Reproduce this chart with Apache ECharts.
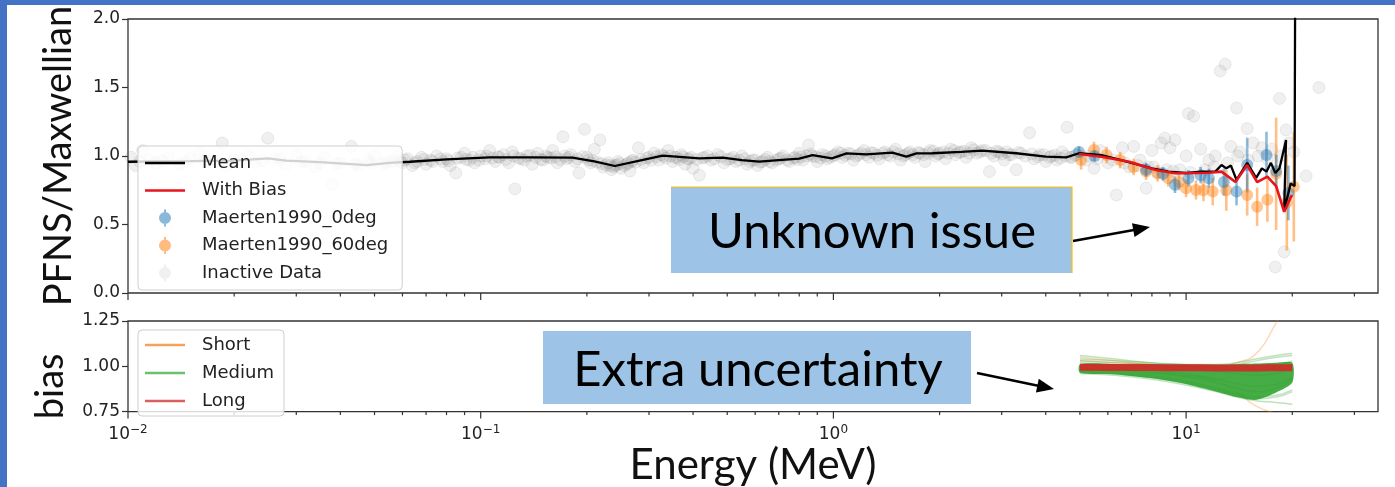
<!DOCTYPE html>
<html><head><meta charset="utf-8">
<script src="https://cdn.jsdelivr.net/npm/echarts@6/dist/echarts.min.js"></script>
<style>html,body{margin:0;padding:0;background:#fff}#c{width:1395px;height:487px}</style>
</head><body><div id="c"></div>
<script>
// ---------------- data ----------------
const xMin = 0.01, xMax = 35;
const majorTicks = [0.01, 0.1, 1, 10];
const minorTicks = [0.02,0.03,0.04,0.05,0.06,0.07,0.08,0.09,0.2,0.3,0.4,0.5,0.6,0.7,0.8,0.9,2,3,4,5,6,7,8,9,20,30];

// Mean curve [E (MeV), PFNS/Maxwellian]
const meanCurve = [[0.01,0.958],[0.015,0.962],[0.02,0.966],[0.025,0.983],[0.028,0.966],[0.035,0.955],[0.0475,0.934],[0.055,0.95],[0.063,0.958],[0.08,0.975],[0.106,0.99],[0.14,0.99],[0.182,0.988],[0.21,0.96],[0.24,0.927],[0.28,0.965],[0.328,1.002],[0.417,0.983],[0.485,0.988],[0.55,0.97],[0.616,0.959],[0.70,0.97],[0.80,0.981],[0.873,1.007],[0.99,0.983],[1.09,1.019],[1.24,1.012],[1.47,1.024],[1.61,0.995],[1.72,1.019],[1.91,1.02],[2.3,1.03],[2.64,1.039],[3.3,1.02],[4.0,0.995],[4.57,0.99],[4.97,1.02],[5.76,1.007],[6.54,0.97],[8.0,0.91],[8.9,0.886],[10.0,0.876],[11.1,0.886],[12.1,0.886],[12.6,0.934],[13.0,0.91],[13.4,0.93],[13.9,0.825],[14.9,0.95],[15.8,0.84],[16.4,0.91],[16.9,0.886],[17.4,0.95],[17.9,0.876],[18.4,0.91],[19.2,1.117],[18.97,0.606],[19.8,0.80],[20.3,0.78],[20.4,2.6]];

// With-bias curve
const biasCurve = [[4.97,1.015],[5.76,0.995],[6.9,0.958],[8.2,0.898],[9.3,0.874],[10.0,0.874],[11.6,0.878],[12.6,0.886],[13.8,0.81],[14.9,0.934],[15.9,0.81],[17.0,0.85],[18.0,0.78],[18.97,0.593],[19.95,0.715]];

// Maerten1990 data [E, value, error]
const maerten0 = [[4.97,1.03,0.04],[5.5,1.0,0.04],[7.7,0.9,0.05],[8.6,0.87,0.05],[9.3,0.79,0.06],[10.15,0.837,0.06],[11.0,0.86,0.06],[11.6,0.837,0.07],[12.8,0.81,0.1],[13.9,0.74,0.1],[14.9,0.934,0.2],[16.9,1.007,0.17],[18.0,0.89,0.12],[19.5,0.73,0.2]];
const maerten60 = [[5.04,0.971,0.07],[5.48,1.044,0.06],[5.95,1.007,0.06],[6.5,0.97,0.06],[7.1,0.92,0.06],[7.7,0.886,0.06],[8.3,0.874,0.06],[8.9,0.837,0.06],[9.55,0.81,0.06],[10.0,0.764,0.065],[10.67,0.752,0.07],[11.2,0.75,0.08],[11.9,0.74,0.1],[13.0,0.75,0.15],[14.9,0.715,0.15],[15.9,0.63,0.14],[17.0,0.68,0.16],[18.0,0.87,0.41],[19.3,0.66,0.35],[20.2,0.776,0.4]];

// Inactive data [E, value]
const inactiveData = [
[0.0102,0.99],[0.0105,0.93],[0.011,1.04],[0.0115,0.97],[0.012,0.95],[0.013,0.99],[0.014,0.94],[0.015,0.98],[0.016,1.02],[0.017,0.96],[0.0185,1.095],[0.019,0.93],[0.02,0.97],[0.022,1.0],[0.023,0.95],[0.0249,1.13],[0.026,0.98],[0.028,0.94],[0.03,1.01],[0.032,0.96],[0.034,0.92],[0.036,0.99],[0.038,0.79],[0.04,0.95],[0.043,1.07],[0.045,0.93],[0.048,0.97],[0.05,1.0],[0.053,0.94],[0.056,0.96],[0.058,0.99],
[0.0108,0.96],[0.0125,0.965],[0.0145,0.955],[0.0165,0.97],[0.018,0.96],[0.021,0.975],[0.024,0.965],[0.027,0.975],[0.031,0.955],[0.035,0.95],[0.039,0.945],[0.044,0.94],[0.049,0.945],[0.054,0.955],[0.059,0.96],
[0.06,0.95],[0.062,0.98],[0.064,0.93],[0.066,0.96],[0.068,0.99],[0.07,0.94],[0.072,0.97],[0.075,1.0],[0.078,0.96],[0.08,0.98],[0.082,0.93],[0.085,0.876],[0.088,0.99],[0.09,1.02],[0.093,0.97],[0.096,0.95],[0.1,1.0],[0.103,0.98],[0.106,1.04],[0.11,0.96],[0.113,0.99],[0.116,1.01],[0.12,0.95],[0.123,1.03],[0.125,0.76],[0.13,0.98],[0.135,1.0],[0.14,0.94],[0.145,1.02],[0.15,0.97],[0.155,0.99],[0.16,1.04],[0.165,0.95],[0.171,1.14],[0.175,0.98],[0.18,1.01],[0.185,0.96],[0.19,0.876],[0.197,1.195],
[0.061,0.97],[0.065,0.95],[0.069,0.975],[0.073,0.96],[0.077,0.98],[0.081,0.965],[0.086,0.985],[0.091,0.975],[0.095,0.99],[0.099,0.97],[0.104,1.0],[0.108,0.985],[0.112,0.995],[0.118,0.975],[0.124,1.0],[0.128,0.985],[0.133,0.97],[0.138,1.005],[0.143,0.99],[0.148,0.975],[0.153,1.0],[0.158,0.985],[0.163,0.995],[0.168,0.975],[0.173,1.0],[0.178,0.99],[0.188,0.98],[0.195,0.995],
[0.2,0.99],[0.205,0.95],[0.21,1.05],[0.218,1.117],[0.222,0.92],[0.23,0.95],[0.235,0.90],[0.24,0.93],[0.245,0.96],[0.25,0.91],[0.26,0.94],[0.265,0.89],[0.27,0.97],[0.28,1.06],[0.29,0.95],[0.30,0.99],[0.31,1.02],[0.32,0.97],[0.33,1.00],[0.34,1.04],[0.35,0.96],[0.36,0.99],[0.37,1.01],[0.38,0.94],[0.39,0.98],[0.40,0.91],[0.417,0.86],[0.43,0.99],[0.45,0.97],[0.47,1.01],[0.49,0.95],
[0.202,0.97],[0.208,0.965],[0.214,0.955],[0.22,0.945],[0.227,0.935],[0.233,0.93],[0.238,0.92],[0.243,0.935],[0.248,0.945],[0.255,0.93],[0.262,0.95],[0.268,0.96],[0.275,0.955],[0.285,0.975],[0.295,0.985],[0.305,0.97],[0.315,0.995],[0.325,1.01],[0.335,0.985],[0.345,1.0],[0.355,0.99],[0.365,0.975],[0.375,0.995],[0.385,0.98],[0.395,0.99],[0.41,0.975],[0.425,0.985],[0.44,1.0],[0.46,0.98],[0.48,0.995],
[0.51,0.98],[0.53,0.96],[0.55,1.0],[0.57,0.94],[0.59,0.97],[0.61,0.93],[0.63,0.96],[0.65,0.99],[0.67,0.95],[0.7,0.98],[0.72,1.0],[0.75,0.96],[0.78,0.99],[0.8,1.02],[0.82,0.97],[0.85,1.08],[0.87,1.0],[0.9,0.96],[0.93,1.01],[0.96,0.98],[1.0,1.0],[1.03,1.03],[1.06,0.99],[1.1,1.02],[1.14,0.97],[1.18,1.01],[1.22,1.04],[1.26,0.99],[1.3,1.02],[1.35,0.98],[1.4,1.03],[1.45,1.0],[1.5,1.05],[1.55,0.97],[1.6,1.01],[1.65,1.03],
[0.5,0.975],[0.52,0.99],[0.54,0.97],[0.56,0.98],[0.58,0.96],[0.6,0.97],[0.62,0.955],[0.64,0.975],[0.66,0.96],[0.69,0.97],[0.71,0.985],[0.74,0.97],[0.77,0.985],[0.79,0.975],[0.81,0.995],[0.84,1.0],[0.86,1.015],[0.89,0.995],[0.92,0.985],[0.95,1.0],[0.98,0.99],[1.01,1.01],[1.05,1.02],[1.08,1.005],[1.12,1.015],[1.16,1.0],[1.2,1.02],[1.24,1.01],[1.28,1.025],[1.33,1.005],[1.38,1.02],[1.43,1.01],[1.48,1.03],[1.53,1.015],[1.58,1.0],[1.63,1.02],[1.68,1.01],
[1.7,0.99],[1.76,1.02],[1.82,0.96],[1.88,1.04],[1.95,1.0],[2.0,1.02],[2.08,0.98],[2.15,1.05],[2.22,1.01],[2.3,1.03],[2.38,0.99],[2.46,1.06],[2.55,1.02],[2.64,1.04],[2.77,0.886],[2.85,1.0],[2.95,1.03],[3.05,0.97],[3.15,1.01],[3.3,0.9],[3.4,1.02],[3.6,1.17],[3.7,0.98],[3.85,1.01],[4.0,0.96],[4.15,1.0],[4.3,0.97],[4.45,1.03],[4.6,1.21],[4.75,0.99],[4.9,1.01],
[1.74,1.025],[1.8,1.01],[1.86,1.02],[1.92,1.035],[1.98,1.015],[2.05,1.03],[2.12,1.02],[2.2,1.04],[2.27,1.025],[2.35,1.035],[2.43,1.02],[2.5,1.045],[2.6,1.03],[2.7,1.04],[2.8,1.02],[2.9,1.035],[3.0,1.015],[3.1,1.03],[3.2,1.01],[3.35,1.025],[3.5,1.0],[3.65,1.015],[3.8,0.995],[3.95,1.01],[4.1,0.99],[4.25,1.005],[4.4,0.985],[4.55,1.0],[4.7,0.99],[4.85,1.005],
[5.2,0.97],[5.48,0.91],[5.7,1.04],[6.0,0.95],[6.34,0.715],[6.6,1.06],[6.9,0.92],[7.1,1.07],[7.4,0.97],[7.7,0.766],[7.8,0.92],[8.0,1.04],[8.3,0.88],[8.5,1.095],[8.7,1.13],[9.0,1.06],[9.3,1.117],[9.6,0.9],[10.15,1.31],[10.5,1.29],[10.0,1.0],[11.0,1.05],[11.6,0.97],[12.1,1.0],[12.5,1.62],[12.9,1.67],[13.4,1.07],[13.9,1.35],[14.2,1.03],[14.9,1.2],[14.9,2.01],[15.5,1.095],[16.4,1.06],[17.0,0.98],[17.9,0.19],[18.4,1.42],[18.97,0.30],[19.2,1.19],[19.6,1.095],[20.2,1.03],[21.9,0.854],[23.8,1.50],
[5.3,1.0],[5.6,0.98],[6.2,0.97],[6.7,0.95],[7.3,0.93],[8.1,0.92],[8.8,0.9],[9.2,0.89],[10.3,0.88],[11.3,0.9],[12.0,0.92],[13.1,0.95],[14.0,1.0],[15.0,0.97],[16.0,1.0],[17.5,1.05],[18.5,1.0]
];

// Bias samples (lower panel)
const biasE = [5, 6.3, 7.9, 9.8, 12.2, 13.9, 15.8, 18, 20];
const mediumUpper = [1.012, 1.012, 1.01, 1.01, 1.01, 1.012, 1.015, 1.02, 1.02];
const mediumLower = [0.965, 0.955, 0.935, 0.905, 0.86, 0.83, 0.815, 0.855, 0.91];
const mediumCurves = [
 [1.06, 1.04, 1.02, 1.01, 1.0, 1.01, 1.03, 1.05, 1.06],
 [1.04, 1.03, 1.02, 1.01, 1.01, 1.02, 1.04, 1.06, 1.07],
 [0.98, 0.97, 0.95, 0.92, 0.88, 0.85, 0.83, 0.84, 0.87],
 [0.97, 0.96, 0.94, 0.91, 0.87, 0.84, 0.82, 0.83, 0.86],
 [0.99, 0.98, 0.965, 0.945, 0.91, 0.88, 0.86, 0.88, 0.93],
 [1.0, 0.99, 0.98, 0.96, 0.93, 0.905, 0.89, 0.9, 0.94],
 [1.02, 1.01, 1.0, 0.99, 0.975, 0.96, 0.95, 0.96, 0.99],
 [0.96, 0.95, 0.93, 0.9, 0.86, 0.83, 0.81, 0.8, 0.79],
 [1.03, 1.02, 1.01, 1.0, 0.99, 0.98, 0.98, 1.0, 1.03]
];
const shortCurves = [
 [1.05, 1.03, 1.01, 1.0, 1.0, 1.02, 1.07, 1.24, 1.4],
 [0.99, 0.98, 0.97, 0.95, 0.92, 0.86, 0.78, 0.74, 0.72],
 [1.03, 1.02, 1.01, 1.0, 0.99, 0.98, 0.97, 0.99, 1.01]
];
const longCurves = [
 [0.995, 0.994, 0.993, 0.992, 0.991, 0.991, 0.991, 0.992, 0.992]
];

// ---------------- helpers ----------------
const FONT = 'DejaVu Sans';
const errIcon = 'path://M5,0h2v17h-2z M12,8.5a6,6 0 1,1 -12,0a6,6 0 1,1 12,0z';
const lineIcon = 'path://M0,0h40v2.5h-40z';

function tickSeries(idx, vals, len) {
  return {
    type: 'custom', xAxisIndex: idx, yAxisIndex: idx, silent: true, clip: false, z: 6,
    data: vals.map(v => [v, 1]), encode: {x: 0, y: 1},
    renderItem: (params, api) => {
      const cs = params.coordSys;
      const x = api.coord([api.value(0), 1])[0];
      const y0 = cs.y + cs.height;
      return {type: 'line', shape: {x1: x, y1: y0, x2: x, y2: y0 + len}, style: {stroke: '#333', lineWidth: 1.2}};
    }
  };
}
function errSeries(name, data, color) {
  return {
    type: 'custom', name: name + '_err', xAxisIndex: 0, yAxisIndex: 0, silent: true, z: 3,
    data: data, encode: {x: 0, y: 1},
    renderItem: (params, api) => {
      const x = api.value(0), y = api.value(1), e = api.value(2);
      const p1 = api.coord([x, y - e]), p2 = api.coord([x, y + e]);
      return {type: 'line', shape: {x1: p1[0], y1: p1[1], x2: p2[0], y2: p2[1]}, style: {stroke: color, lineWidth: 2.6}};
    }
  };
}
function arrow(x1, y1, x2, y2) {
  const dx = x2 - x1, dy = y2 - y1, L = Math.hypot(dx, dy), ux = dx / L, uy = dy / L;
  const hl = 17, hw = 7, bx = x2 - ux * hl, by = y2 - uy * hl;
  return [
    {type: 'line', z: 100, shape: {x1: x1, y1: y1, x2: bx + ux * 2, y2: by + uy * 2}, style: {stroke: '#000', lineWidth: 2.5}},
    {type: 'polygon', z: 100, shape: {points: [[x2, y2], [bx - uy * hw, by + ux * hw], [bx + uy * hw, by - ux * hw]]}, style: {fill: '#000'}}
  ];
}
const supMap = {'-2': '−2', '-1': '−1', '0': '0', '1': '1'};

// ---------------- series ----------------
const series = [];
series.push({
  name: 'Inactive Data', type: 'scatter', xAxisIndex: 0, yAxisIndex: 0, z: 2,
  data: inactiveData, symbolSize: 12, clip: true,
  itemStyle: {color: 'rgba(110,110,110,0.13)', borderColor: 'rgba(90,90,90,0.13)', borderWidth: 1}
});
series.push(errSeries('Maerten1990_60deg', maerten60, 'rgba(255,127,14,0.5)'));
series.push(errSeries('Maerten1990_0deg', maerten0, 'rgba(31,119,180,0.5)'));
series.push({
  name: 'Maerten1990_60deg', type: 'scatter', xAxisIndex: 0, yAxisIndex: 0, z: 3,
  data: maerten60.map(d => [d[0], d[1]]), symbolSize: 12,
  itemStyle: {color: 'rgba(255,127,14,0.55)'}
});
series.push({
  name: 'Maerten1990_0deg', type: 'scatter', xAxisIndex: 0, yAxisIndex: 0, z: 3,
  data: maerten0.map(d => [d[0], d[1]]), symbolSize: 12,
  itemStyle: {color: 'rgba(31,119,180,0.55)'}
});
series.push({
  name: 'Mean', type: 'line', xAxisIndex: 0, yAxisIndex: 0, z: 4, data: meanCurve,
  symbol: 'none', lineStyle: {color: '#000', width: 2.3}, itemStyle: {color: '#000'}
});
series.push({
  name: 'With Bias', type: 'line', xAxisIndex: 0, yAxisIndex: 0, z: 5, data: biasCurve,
  symbol: 'none', lineStyle: {color: '#e8141c', width: 2.6}, itemStyle: {color: '#e8141c'}
});

// lower panel
shortCurves.forEach(c => series.push({
  name: 'Short', type: 'line', xAxisIndex: 1, yAxisIndex: 1, z: 2, smooth: true,
  data: biasE.map((e, i) => [e, c[i]]), symbol: 'none',
  lineStyle: {color: '#ff7f0e', width: 1.5, opacity: 0.3}, itemStyle: {color: '#ff7f0e'}
}));
mediumCurves.forEach(c => series.push({
  name: 'Medium', type: 'line', xAxisIndex: 1, yAxisIndex: 1, z: 2, smooth: true,
  data: biasE.map((e, i) => [e, c[i]]), symbol: 'none',
  lineStyle: {color: '#2ca02c', width: 1.5, opacity: 0.3}, itemStyle: {color: '#2ca02c'}
}));
series.push({
  name: 'mediumBand', type: 'custom', xAxisIndex: 1, yAxisIndex: 1, z: 3, silent: true,
  data: [[biasE[0], 1]], encode: {x: 0, y: 1},
  renderItem: (params, api) => {
    const up = biasE.map((e, i) => api.coord([e, mediumUpper[i]]));
    const lo = biasE.map((e, i) => api.coord([e, mediumLower[i]])).reverse();
    return {type: 'polygon', shape: {points: up.concat(lo), smooth: 0.25}, style: {fill: 'rgba(44,160,44,0.88)'}};
  }
});
longCurves.forEach(c => series.push({
  name: 'Long', type: 'line', xAxisIndex: 1, yAxisIndex: 1, z: 4, smooth: true,
  data: biasE.map((e, i) => [e, c[i]]), symbol: 'none',
  lineStyle: {color: '#d62728', width: 7, opacity: 0.9}, itemStyle: {color: '#d62728'}
}));

series.push(tickSeries(0, majorTicks, 7));
series.push(tickSeries(0, minorTicks, 3.5));
series.push(tickSeries(1, majorTicks, 7));
series.push(tickSeries(1, minorTicks, 3.5));

// ---------------- option ----------------
const axisFont = {fontFamily: FONT, fontSize: 17, color: '#222'};
const legendCommon = {
  orient: 'vertical', left: 138, selectedMode: false, z: 20,
  itemWidth: 40, itemHeight: 17,
  backgroundColor: 'rgba(255,255,255,0.82)', borderColor: '#cfcfcf', borderWidth: 1, borderRadius: 4,
  textStyle: {fontFamily: FONT, fontSize: 18, color: '#222', padding: [0, 0, 0, 12]}
};
const option = {
  animation: false,
  backgroundColor: '#fff',
  grid: [
    {left: 128, top: 19, right: 17, height: 274, show: true, borderColor: '#333', borderWidth: 1.3, backgroundColor: '#fff'},
    {left: 128, top: 321, right: 17, height: 91, show: true, borderColor: '#333', borderWidth: 1.3, backgroundColor: '#fff'}
  ],
  xAxis: [
    {type: 'log', gridIndex: 0, min: xMin, max: xMax, logBase: 10,
     axisLine: {show: false}, axisTick: {show: false}, axisLabel: {show: false}, splitLine: {show: false}},
    {type: 'log', gridIndex: 1, min: xMin, max: xMax, logBase: 10,
     axisLine: {show: false}, axisTick: {show: false}, splitLine: {show: false},
     name: 'Energy (MeV)', nameLocation: 'middle', nameGap: 27,
     nameTextStyle: {fontFamily: 'Lato', fontSize: 42, color: '#111'},
     axisLabel: {
       margin: 12,
       formatter: v => {
         const ex = Math.log10(v), r = Math.round(ex);
         if (Math.abs(ex - r) > 1e-6 || !(String(r) in supMap)) return '';
         return '{b|10}{s|' + supMap[String(r)] + '}';
       },
       rich: {
         b: {fontFamily: FONT, fontSize: 17, color: '#222'},
         s: {fontFamily: FONT, fontSize: 12, color: '#222', padding: [0, 0, 10, 0]}
       }
     }}
  ],
  yAxis: [
    {type: 'value', gridIndex: 0, min: 0, max: 2, interval: 0.5,
     axisLine: {show: false}, splitLine: {show: false},
     axisTick: {show: true, length: 6, lineStyle: {color: '#333', width: 1.2}},
     axisLabel: Object.assign({margin: 8, formatter: v => v.toFixed(1)}, axisFont),
     name: 'PFNS/Maxwellian', nameLocation: 'middle', nameGap: 50,
     nameTextStyle: {fontFamily: 'Lato', fontSize: 38, color: '#111'}},
    {type: 'value', gridIndex: 1, min: 0.75, max: 1.25, interval: 0.25,
     axisLine: {show: false}, splitLine: {show: false},
     axisTick: {show: true, length: 6, lineStyle: {color: '#333', width: 1.2}},
     axisLabel: Object.assign({margin: 8, formatter: v => v.toFixed(2)}, axisFont),
     name: 'bias', nameLocation: 'middle', nameGap: 58,
     nameTextStyle: {fontFamily: 'Lato', fontSize: 38, color: '#111', padding: [0, 40, 0, 0]}}
  ],
  legend: [
    Object.assign({}, legendCommon, {
      top: 146, padding: [8, 14, 8, 7], itemGap: 9.5,
      data: [
        {name: 'Mean', icon: lineIcon, itemStyle: {color: '#000'}},
        {name: 'With Bias', icon: lineIcon, itemStyle: {color: '#e8141c'}},
        {name: 'Maerten1990_0deg', icon: errIcon, itemStyle: {color: 'rgba(31,119,180,0.65)'}},
        {name: 'Maerten1990_60deg', icon: errIcon, itemStyle: {color: 'rgba(255,127,14,0.65)'}},
        {name: 'Inactive Data', icon: errIcon, itemStyle: {color: 'rgba(150,150,150,0.18)', borderWidth: 0}}
      ]}),
    Object.assign({}, legendCommon, {
      top: 330, padding: [6, 10, 6, 7], itemGap: 10,
      data: [
        {name: 'Short', icon: lineIcon, itemStyle: {color: '#f5a25a', opacity: 1}},
        {name: 'Medium', icon: lineIcon, itemStyle: {color: '#6cbf6c', opacity: 1}},
        {name: 'Long', icon: lineIcon, itemStyle: {color: '#d9605f', opacity: 1}}
      ]})
  ],
  graphic: [
    {type: 'rect', z: 100, shape: {x: 0, y: 0, width: 1395, height: 5}, style: {fill: '#4472C4'}},
    {type: 'rect', z: 100, shape: {x: 0, y: 0, width: 7, height: 487}, style: {fill: '#4472C4'}},
    {type: 'rect', z: 100, shape: {x: 671, y: 187, width: 401, height: 86}, style: {fill: '#9DC3E6'}},
    {type: 'polyline', z: 101, shape: {points: [[671, 187], [1072, 187], [1072, 273]]}, style: {stroke: '#FFC000', lineWidth: 1.2, fill: null}},
    {type: 'text', z: 101, x: 872, y: 232, style: {text: 'Unknown issue', font: '49px Lato', fill: '#000', align: 'center', verticalAlign: 'middle'}},
    {type: 'rect', z: 100, shape: {x: 543, y: 331, width: 428, height: 73}, style: {fill: '#9DC3E6'}},
    {type: 'text', z: 101, x: 758, y: 370, style: {text: 'Extra uncertainty', font: '49px Lato', fill: '#000', align: 'center', verticalAlign: 'middle'}}
  ].concat(arrow(1073, 241, 1150, 227), arrow(977, 373, 1054, 389)),
  series: series
};

const chart = echarts.init(document.getElementById('c'), null, {renderer: 'canvas'});
chart.setOption(option);
</script></body></html>
